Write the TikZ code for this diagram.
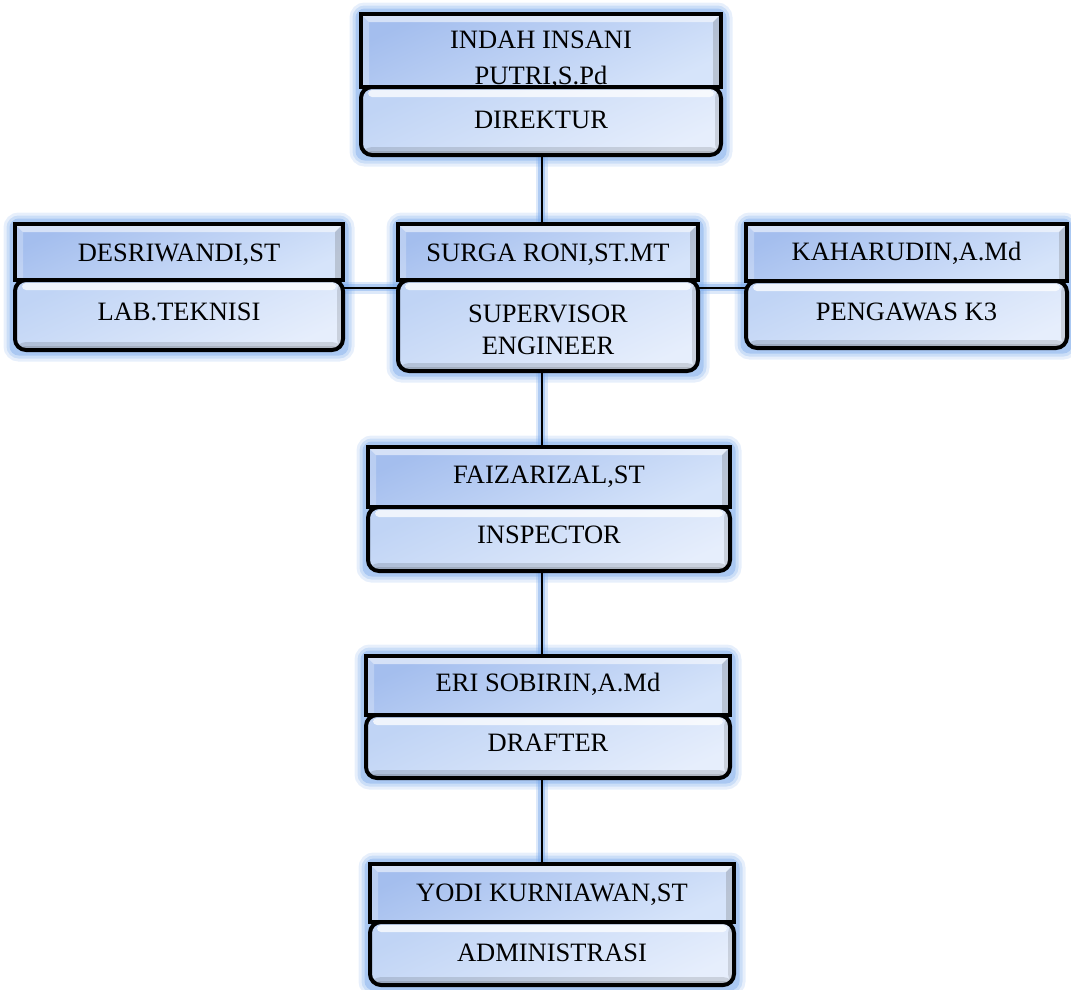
\documentclass[tikz,border=0pt]{standalone}
\usepackage{fontspec}
\setmainfont{Liberation Serif}
\usetikzlibrary{calc}
\pgfdeclarelayer{background}
\pgfsetlayers{background,main}
\definecolor{glowc}{RGB}{120,168,235}
\definecolor{nameTop}{RGB}{164,190,238}
\definecolor{nameBot}{RGB}{214,228,250}
\definecolor{roleTop}{RGB}{192,212,245}
\definecolor{roleBot}{RGB}{230,238,252}
\tikzset{
  namebox/.style={draw=black, line width=4pt, inner sep=0pt,
    top color=nameTop, bottom color=nameBot, shading angle=25,
    path picture={
      \fill[white, opacity=.55] ([shift={(2pt,-2pt)}]path picture bounding box.north west) -- ([shift={(-2pt,-2pt)}]path picture bounding box.north east) -- ([shift={(-8pt,-8pt)}]path picture bounding box.north east) -- ([shift={(8pt,-8pt)}]path picture bounding box.north west) -- cycle;
      \fill[white, opacity=.25] ([shift={(2pt,-2pt)}]path picture bounding box.north west) -- ([shift={(8pt,-8pt)}]path picture bounding box.north west) -- ([shift={(8pt,0pt)}]path picture bounding box.south west) -- ([shift={(2pt,0pt)}]path picture bounding box.south west) -- cycle;
      \fill[black!60, opacity=.25] ([shift={(-2pt,-2pt)}]path picture bounding box.north east) -- ([shift={(-8pt,-8pt)}]path picture bounding box.north east) -- ([shift={(-8pt,0pt)}]path picture bounding box.south east) -- ([shift={(-2pt,0pt)}]path picture bounding box.south east) -- cycle;
    }},
  rolebox/.style={draw=black, line width=4pt, inner sep=0pt, rounded corners=11pt,
    top color=roleTop, bottom color=roleBot, shading angle=25,
    path picture={
      \fill[white, opacity=.75, rounded corners=4pt] ([shift={(7pt,-3pt)}]path picture bounding box.north west) rectangle ([shift={(-7pt,-10pt)}]path picture bounding box.north east);
      \fill[black, opacity=.12] ([shift={(0pt,8pt)}]path picture bounding box.south west) rectangle (path picture bounding box.south east);
      \fill[black, opacity=.12] ([shift={(0pt,4pt)}]path picture bounding box.south west) rectangle (path picture bounding box.south east);
      \fill[black, opacity=.12] ([shift={(-6pt,0pt)}]path picture bounding box.south east) rectangle (path picture bounding box.north east);
    }},
  txt/.style={font=\fontsize{26.5}{32}\selectfont, inner sep=0pt, anchor=base, align=center},
  glow/.style={glowc, rounded corners=6pt},
  conn/.style={line width=2pt, black,
    preaction={draw=glowc, line width=12pt, opacity=.25},
    preaction={draw=glowc, line width=7pt, opacity=.45}}
}
\begin{document}
\begin{tikzpicture}[x=1pt,y=-1pt]
\useasboundingbox (0,0) rectangle (1071,989);

% glows behind units
\begin{pgfonlayer}{background}
\foreach \xa/\xb/\ya/\yb in {359/723/12/157, 13/345/222/352, 396/700/222/373, 744/1069/222/350, 366/732/445/573, 364/732/654/780, 368/736/862/987}{
  \draw[glow, line width=19pt, opacity=.18] (\xa,\ya) rectangle (\xb,\yb);
  \draw[glow, line width=13pt, opacity=.25] (\xa,\ya) rectangle (\xb,\yb);
  \draw[glow, line width=7pt, opacity=.4] (\xa,\ya) rectangle (\xb,\yb);
}
\end{pgfonlayer}

% DIREKTUR
\node[namebox, minimum width=360pt, minimum height=73pt] (dirN) at (541,50.5) {};
\node[txt, anchor=north, font=\fontsize{26.5}{36}\selectfont] (dirNt) at (541,31) {INDAH INSANI\\PUTRI,S.Pd};
\node[rolebox, minimum width=360pt, minimum height=68pt] (dirR) at (541,121) {};
\node[txt] (dirRt) at (541,128) {DIREKTUR};

% LAB.TEKNISI
\node[namebox, minimum width=328pt, minimum height=56pt] (labN) at (179,252) {};
\node[txt] (labNt) at (179,261) {DESRIWANDI,ST};
\node[rolebox, minimum width=328pt, minimum height=70pt] (labR) at (179,315) {};
\node[txt] (labRt) at (179,320.5) {LAB.TEKNISI};

% SUPERVISOR
\node[namebox, minimum width=300pt, minimum height=56pt] (supN) at (548,252) {};
\node[txt] (supNt) at (548,261) {SURGA RONI,ST.MT};
\node[rolebox, minimum width=300pt, minimum height=91pt] (supR) at (548,325.5) {};
\node[txt] (supRt) at (548,354) {SUPERVISOR\\ENGINEER};

% PENGAWAS K3
\node[namebox, minimum width=321pt, minimum height=57pt] (k3N) at (906.5,252.5) {};
\node[txt] (k3Nt) at (906.5,260.7) {KAHARUDIN,A.Md};
\node[rolebox, minimum width=321pt, minimum height=67pt] (k3R) at (906.5,314.5) {};
\node[txt] (k3Rt) at (906.5,320.7) {PENGAWAS K3};

% INSPECTOR
\node[namebox, minimum width=362pt, minimum height=60pt] (insN) at (549,477) {};
\node[txt] (insNt) at (549,483.3) {FAIZARIZAL,ST};
\node[rolebox, minimum width=362pt, minimum height=64pt] (insR) at (549,539) {};
\node[txt] (insRt) at (549,543.3) {INSPECTOR};

% DRAFTER
\node[namebox, minimum width=364pt, minimum height=59pt] (draN) at (548,685.5) {};
\node[txt] (draNt) at (548,691.7) {ERI SOBIRIN,A.Md};
\node[rolebox, minimum width=364pt, minimum height=63pt] (draR) at (548,746.5) {};
\node[txt] (draRt) at (548,751.7) {DRAFTER};

% ADMINISTRASI
\node[namebox, minimum width=364pt, minimum height=58pt] (admN) at (552,893) {};
\node[txt] (admNt) at (552,901) {YODI KURNIAWAN,ST};
\node[rolebox, minimum width=364pt, minimum height=63pt] (admR) at (552,953.5) {};
\node[txt] (admRt) at (552,961) {ADMINISTRASI};

% connectors
\coordinate (spine) at (541.7,0);
\coordinate (hbar) at (0,287.5);
\begin{pgfonlayer}{background}
\draw[conn] (dirR.center -| spine) -- (supN.center -| spine);
\draw[conn] (supR.center -| spine) -- (insN.center -| spine);
\draw[conn] (insR.center -| spine) -- (draN.center -| spine);
\draw[conn] (draR.center -| spine) -- (admN.center -| spine);
\draw[conn] (labR.center |- hbar) -- (supR.center |- hbar);
\draw[conn] (supR.center |- hbar) -- (k3R.center |- hbar);
\end{pgfonlayer}
\end{tikzpicture}
\end{document}
